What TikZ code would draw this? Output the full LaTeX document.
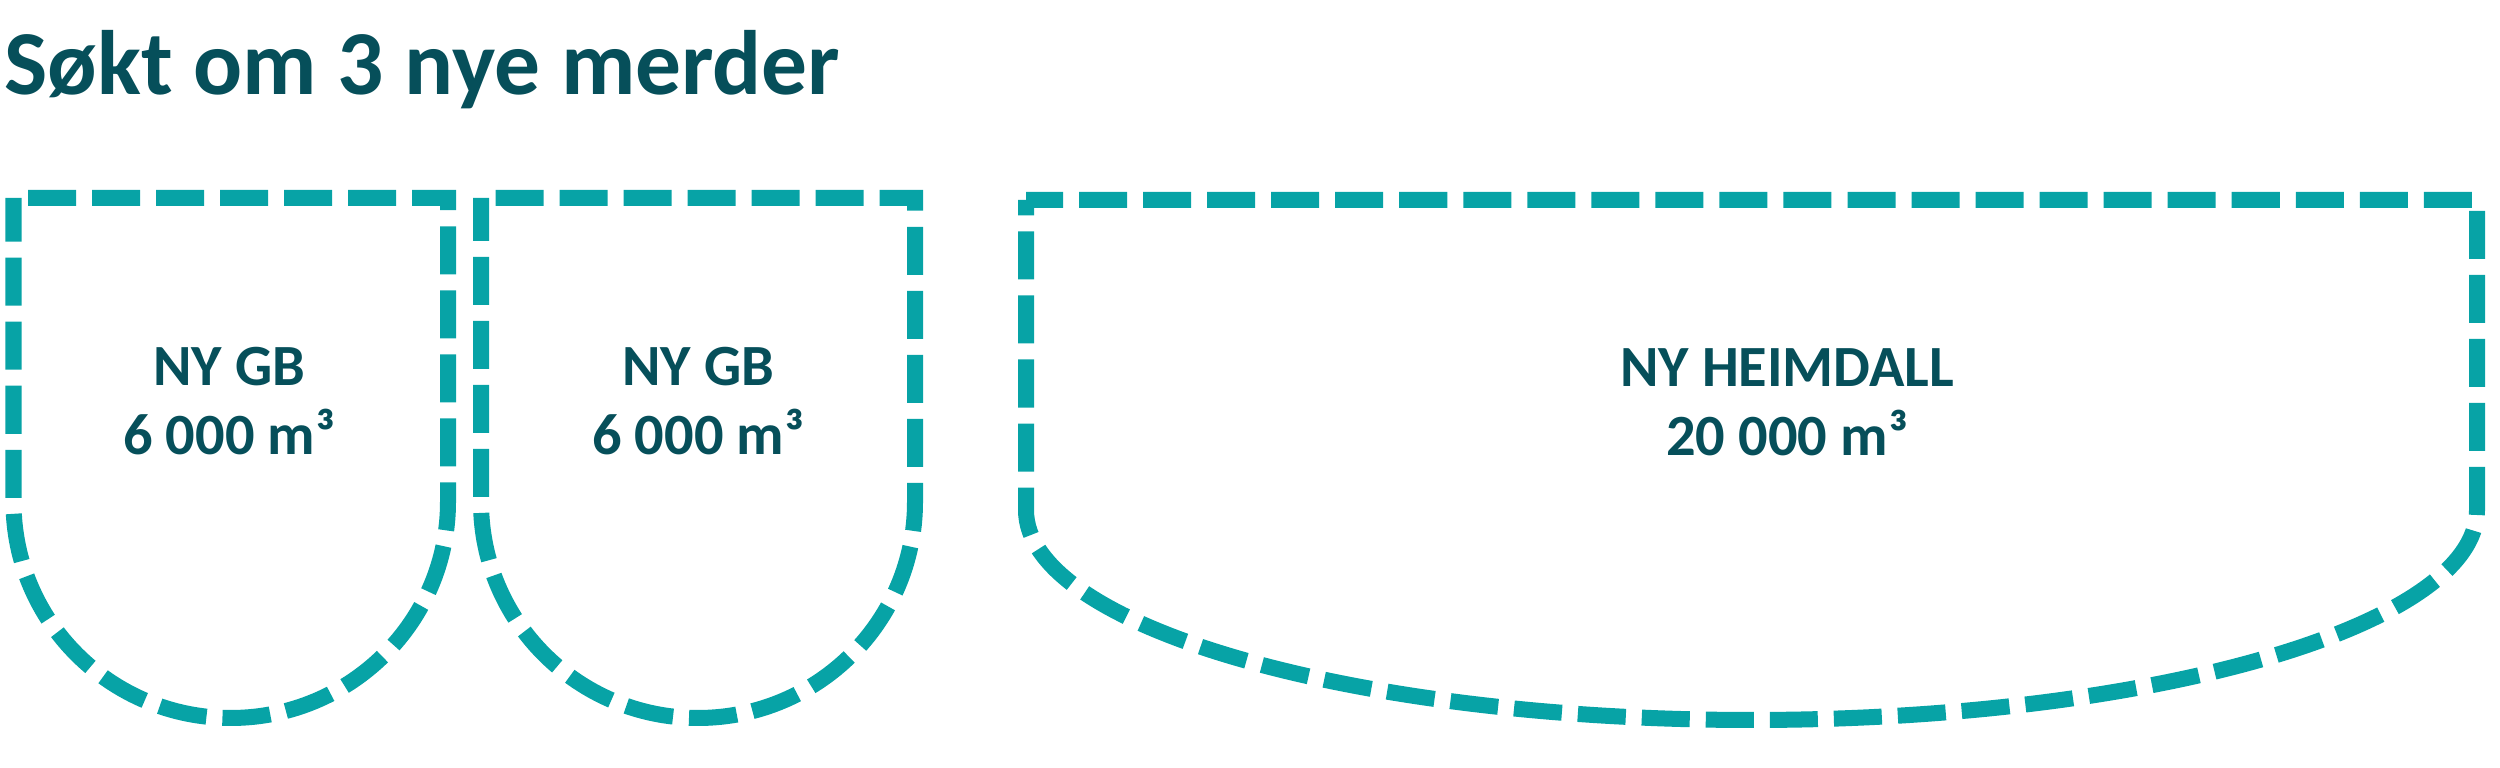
\documentclass[tikz,border=0pt]{standalone}
\usepackage{fontspec}
\setmainfont{Carlito}
\usepackage{tikz}
\usetikzlibrary{positioning}
\definecolor{merdline}{HTML}{07A3A6}
\definecolor{merdtext}{HTML}{064F5A}

\begin{document}
\begin{tikzpicture}[x=0.01cm,y=-0.01cm,merd/.style={draw=merdline,line width=0.16cm,dash pattern=on 0.48cm off 0.16cm,line cap=butt,line join=miter},lbl/.style={align=center,text=merdtext,inner sep=0pt,font=\bfseries\fontsize{16.6pt}{19.6pt}\selectfont},ttl/.style={text=merdtext,inner sep=0pt,anchor=base west,font=\bfseries\fontsize{26pt}{31pt}\selectfont}]
\useasboundingbox (0,0) rectangle (2500,768);
\node[ttl] (title) at (4,95) {Søkt om 3 nye merder};
% merdene
\draw[merd,dash phase=0.495cm] (13.5,198) -- (448,198) -- (448,502) arc[start angle=0,end angle=180,x radius=217.25,y radius=216] -- cycle;
\draw[merd,dash phase=0.495cm] (481,198) -- (915,198) -- (915,502) arc[start angle=0,end angle=180,x radius=217,y radius=216] -- cycle;
\draw[merd,dash phase=0.11cm] (1026,200) -- (2477,200) -- (2477,510) arc[start angle=0,end angle=180,x radius=725.5,y radius=210] -- cycle;
\node[lbl] (gb1) at (229,401) {NY GB\\6 000 m³};
\node[lbl] (gb2) at (698,401) {NY GB\\6 000 m³};
\node[lbl] (heimdall) at (1787,402) {NY HEIMDALL\\20 000 m³};
\end{tikzpicture}
\end{document}
